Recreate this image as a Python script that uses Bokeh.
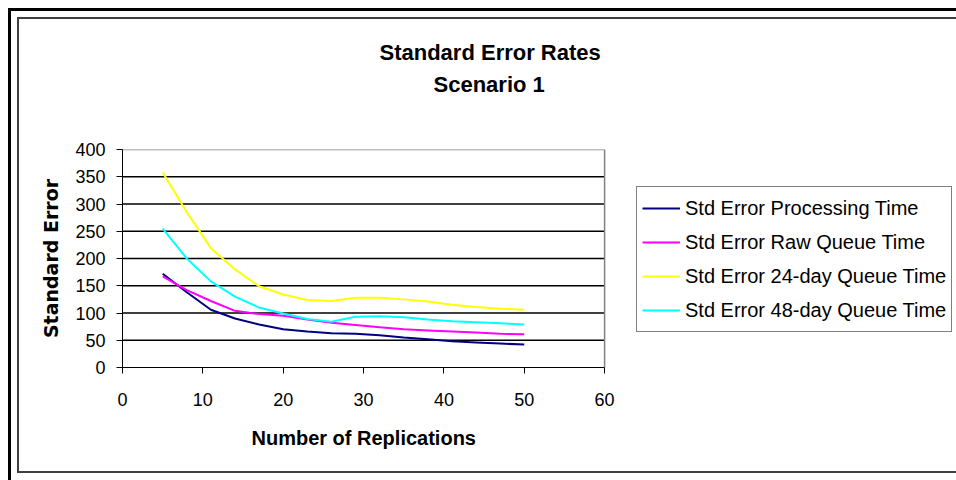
from bokeh.plotting import figure
from bokeh.models import (Range1d, Legend, LegendItem, Title, FixedTicker, LinearAxis)
from bokeh.embed import file_html
from bokeh.resources import INLINE

# ---- data ----
replications = [5, 8, 11, 14, 17, 20, 23, 26, 29, 32, 35, 38, 41, 44, 47, 50]
processing = [172, 138, 106, 90, 79, 70, 66, 63, 62, 59, 55, 52, 48, 46, 44, 42]
raw_queue = [167, 142, 122, 104, 98, 95, 88, 82, 78, 74, 70, 68, 66, 64, 62, 61]
queue_24 = [358, 285, 219, 180, 149, 134, 124, 122, 128, 128, 125, 121, 115, 111, 108, 106]
queue_48 = [255, 200, 158, 130, 110, 99, 89, 84, 93, 94, 92, 88, 85, 83, 81, 79]

series_names = ["Std Error Processing Time", "Std Error Raw Queue Time",
                "Std Error 24-day Queue Time", "Std Error 48-day Queue Time"]
series_colors = ["#000080", "#FF00FF", "#FFFF00", "#00FFFF"]
x_ticks = [0, 10, 20, 30, 40, 50, 60]
y_ticks = [0, 50, 100, 150, 200, 250, 300, 350, 400]
title_lines = ["Standard Error Rates", "Scenario 1"]
x_title = "Number of Replications"
y_title = "Standard Error"

FONT = "Liberation Sans"
X0, X1 = x_ticks[0], x_ticks[-1]

# frame spans the plot area plus the legend area
p = figure(width=956, height=480, output_backend="svg", toolbar_location=None, title=None,
           x_range=Range1d(0, 103.3), y_range=Range1d(0, 400),
           min_border_left=122, min_border_right=4, min_border_top=149, min_border_bottom=113,
           background_fill_color="white", border_fill_color=None)
p.outline_line_color = None
p.grid.grid_line_color = None

# axes
p.xaxis.ticker = FixedTicker(ticks=x_ticks)
p.yaxis.ticker = FixedTicker(ticks=y_ticks)
p.xaxis.bounds = (X0, X1)
p.xaxis.minor_tick_line_color = None
p.yaxis.minor_tick_line_color = None
for ax in (p.xaxis[0], p.yaxis[0]):
    ax.axis_line_color = "black"
    ax.major_tick_line_color = "black"
    ax.major_label_text_font = FONT
    ax.major_label_text_font_size = "18px"
    ax.major_label_text_color = "black"
    ax.axis_label_text_font = FONT
    ax.axis_label_text_font_style = "bold"
    ax.axis_label_text_color = "black"
p.xaxis.major_tick_in = 0
p.xaxis.major_tick_out = 6
p.yaxis.major_tick_in = 0
p.yaxis.major_tick_out = 6
p.xaxis.major_label_standoff = 19
p.yaxis.major_label_standoff = 11
p.yaxis.axis_label = y_title
p.yaxis.axis_label_text_font = "DejaVu Sans"
p.yaxis.axis_label_text_font_size = "19px"
p.yaxis.axis_label_standoff = 10

# horizontal gridlines across the plot area only, top one grey (plot-area edge)
grid_y = y_ticks[1:]
p.segment(x0=[X0] * len(grid_y), x1=[X1] * len(grid_y), y0=grid_y, y1=grid_y,
          line_color=["black"] * (len(grid_y) - 1) + ["#808080"], line_width=1.5)
# right edge of the plot area
p.segment(x0=[X1], x1=[X1], y0=[y_ticks[0]], y1=[y_ticks[-1]], line_color="#808080", line_width=1.5)

# lines
renderers = []
for ys, c in zip([processing, raw_queue, queue_24, queue_48], series_colors):
    r = p.line(replications, ys, line_color=c, line_width=2)
    renderers.append(r)

legend = Legend(items=[LegendItem(label=n, renderers=[r]) for n, r in zip(series_names, renderers)],
                location=(514, 35), orientation="vertical",
                label_text_font=FONT, label_text_font_size="20px", label_text_color="black",
                glyph_width=38, glyph_height=32, label_height=32, label_standoff=5,
                padding=5, spacing=2, margin=0,
                border_line_color="black", border_line_width=1.5,
                background_fill_color="white", background_fill_alpha=1)
p.add_layout(legend, "center")

# invisible spacer between the plot and the title block
spacer = LinearAxis(ticker=FixedTicker(ticks=[X1]), major_label_overrides={X1: ""},
                    major_tick_out=50, major_tick_in=0,
                    major_label_text_font_size="0px", major_label_standoff=0,
                    axis_line_color=None, major_tick_line_color=None, minor_tick_line_color=None)
p.add_layout(spacer, "above")

# titles
p.add_layout(Title(text=title_lines[1], align="left", offset=311, standoff=5,
                   text_font=FONT, text_font_style="bold",
                   text_font_size="22px", text_color="black"), "above")
p.add_layout(Title(text=title_lines[0], align="left", offset=257, standoff=5,
                   text_font=FONT, text_font_style="bold", text_font_size="22px",
                   text_color="black"), "above")
# x-axis title centred under the plot area
p.add_layout(Title(text=x_title, align="left", offset=129, standoff=32,
                   text_font=FONT, text_font_style="bold", text_font_size="20px",
                   text_color="black"), "below")

# page frames drawn as the host background (explicit pixel sizes, open on right/bottom)
p.styles = {"background": (
    "linear-gradient(#000, #000) 8px 8px / 3px 472px no-repeat, "
    "linear-gradient(#000, #000) 8px 8px / 948px 3px no-repeat, "
    "linear-gradient(#404040, #404040) 17px 17px / 2px 456px no-repeat, "
    "linear-gradient(#404040, #404040) 17px 17px / 939px 2px no-repeat, "
    "linear-gradient(#404040, #404040) 17px 471px / 939px 2px no-repeat, "
    "#ffffff")}

open("out.html", "w").write(file_html(p, INLINE))
